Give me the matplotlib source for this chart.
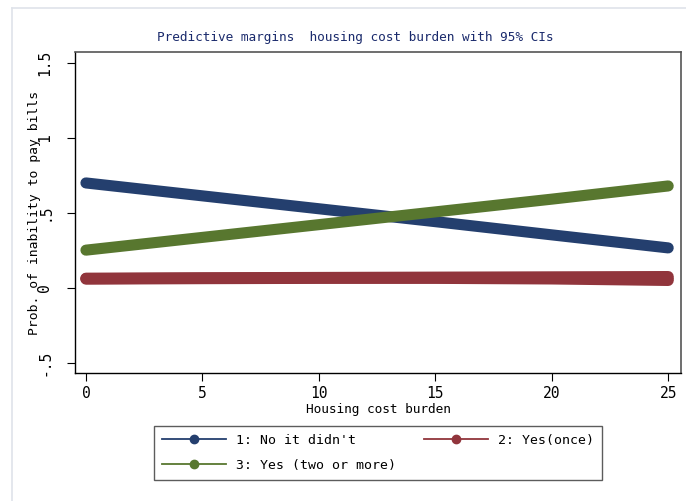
import matplotlib
matplotlib.use("Agg")
import matplotlib.pyplot as plt
from matplotlib.lines import Line2D

# Predictive margins by housing cost burden
burden = [0, 5, 10, 15, 20, 25]
no_didnt = [0.698, 0.612, 0.526, 0.440, 0.352, 0.265]
yes_once = [0.060, 0.063, 0.065, 0.066, 0.065, 0.060]
yes_once_lo = [0.057, 0.060, 0.062, 0.062, 0.058, 0.048]
yes_once_hi = [0.063, 0.066, 0.068, 0.070, 0.072, 0.074]
yes_more = [0.250, 0.335, 0.420, 0.505, 0.590, 0.678]

series_labels = ["1: No it didn't", "2: Yes(once)", "3: Yes (two or more)"]
xticks = [0, 5, 10, 15, 20, 25]
yticks = [-0.5, 0, 0.5, 1, 1.5]
ytick_labels = ["-.5", "0", ".5", "1", "1.5"]

navy = "#243f6e"
maroon = "#91353c"
forest = "#58772f"

plt.rcParams["font.family"] = ["DejaVu Sans Mono"]

W, H = 686, 501
fig = plt.figure(figsize=(W / 100, H / 100), dpi=100)
fig.patch.set_facecolor("white")

# light page frame
fig.add_artist(Line2D([12 / W, 12 / W], [0, 1 - 8 / H], color="#dfe3ea", lw=1.2))
fig.add_artist(Line2D([12 / W, 1], [1 - 8 / H, 1 - 8 / H], color="#dfe3ea", lw=1.2))

left, right, top, bottom = 75, 681, 52, 373
ax = fig.add_axes([left / W, 1 - bottom / H, (right - left) / W, (bottom - top) / H])

lw = 8
ax.plot(burden, no_didnt, color=navy, lw=lw, solid_capstyle="round", zorder=3)
ax.plot(burden, yes_once_lo, color=maroon, lw=lw, solid_capstyle="round", zorder=2)
ax.plot(burden, yes_once_hi, color=maroon, lw=lw, solid_capstyle="round", zorder=2)
ax.plot(burden, yes_once, color=maroon, lw=lw, solid_capstyle="round", zorder=2)
ax.plot(burden, yes_more, color=forest, lw=lw, solid_capstyle="round", zorder=4)

ax.set_xlim(-0.47, 25.55)
ax.set_ylim(-0.569, 1.571)
ax.set_xticks(xticks)
ax.set_xticklabels([str(t) for t in xticks], fontsize=10.5)
ax.set_yticks(yticks)
ax.set_yticklabels(ytick_labels, fontsize=10.5, rotation=90, va="center")
ax.tick_params(axis="x", direction="out", length=6, width=0.8, color="black", pad=3)
ax.tick_params(axis="y", direction="out", length=6, width=0.8, color="black", pad=10.5)

for side in ["left", "bottom"]:
    ax.spines[side].set_color("black")
    ax.spines[side].set_linewidth(1.0)
for side in ["top", "right"]:
    ax.spines[side].set_color("#555555")
    ax.spines[side].set_linewidth(1.2)

ax.set_xlabel("Housing cost burden", fontsize=9.2, labelpad=2)
ax.set_ylabel("Prob. of inability to pay bills", fontsize=9.4)
ax.yaxis.set_label_coords((41 - left) / (right - left), 0.5)
ax.set_title("Predictive margins  housing cost burden with 95% CIs",
             fontsize=9.2, color="#1a2a6c", pad=8,
             x=(355 - left) / (right - left))

handles = [
    Line2D([], [], color=navy, lw=1.3, marker="o", markersize=6),
    Line2D([], [], color=maroon, lw=1.3, marker="o", markersize=6),
    Line2D([], [], color=forest, lw=1.3, marker="o", markersize=6),
]
# two columns filled row by row: 1 | 2 on top, 3 below
order = [0, 2, 1]
leg = fig.legend([handles[i] for i in order], [series_labels[i] for i in order],
                 loc="upper left", bbox_to_anchor=(154 / W, 1 - 426 / H),
                 ncol=2, fontsize=9.5, frameon=True, fancybox=False,
                 edgecolor="#333333", handlelength=4.85, columnspacing=2.1,
                 borderaxespad=0, borderpad=0.6, labelspacing=0.9,
                 handletextpad=0.76)
leg.get_frame().set_linewidth(1.0)

fig.savefig("out.png", dpi=100, facecolor="white")
